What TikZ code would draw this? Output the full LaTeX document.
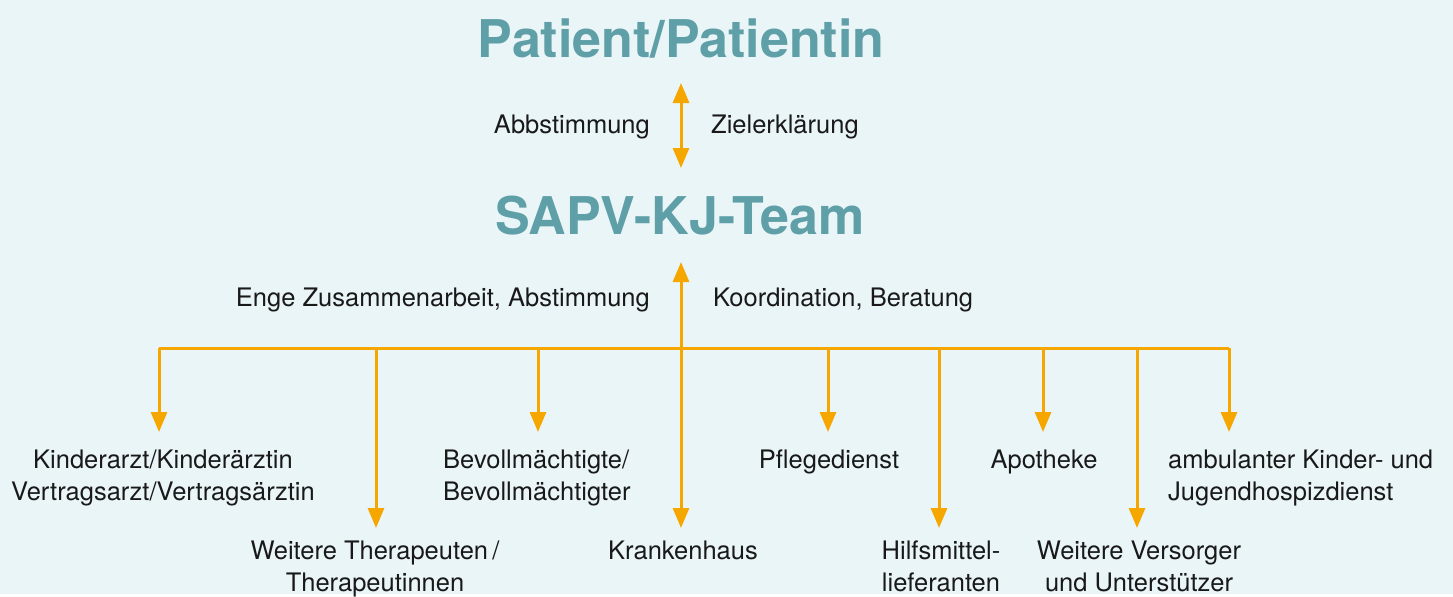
\documentclass[tikz,border=0pt]{standalone}
\usepackage{fontspec}
\setmainfont{TeX Gyre Heros}
\usetikzlibrary{arrows.meta}
\definecolor{bgblue}{HTML}{EAF5F8}
\definecolor{sapvteal}{HTML}{5F9FA7}
\definecolor{arroworange}{HTML}{F5A700}
\begin{document}
\begin{tikzpicture}[x=1pt,y=1pt,>={Triangle[width=16pt,length=20pt]},
    title/.style={text=sapvteal,font=\fontsize{52}{52}\selectfont\bfseries,inner sep=0},
    lbl/.style={text=black!90,font=\fontsize{25.5}{32}\selectfont,inner sep=0,align=center},
    line/.style={draw=arroworange,line width=3pt},
    flow/.style={line,->}]
  \fill[bgblue] (0,0) rectangle (1453,-594);
  % titles
  \node[title,anchor=base] (patient) at (681,-57) {Patient/Patientin};
  \node[title,anchor=base] (team) at (680,-234) {SAPV-KJ-Team};
  % patient <-> team
  \coordinate (pa) at (681,-83);
  \coordinate (ta) at (681,-168);
  \draw[line,<->] (pa) -- (ta);
  \node[lbl,anchor=base east] (abst) at (650,-133) {Abbstimmung};
  \node[lbl,anchor=base west] (ziel) at (711,-133) {Zielerklärung};
  % team <- bus
  \coordinate (hub) at (681,-348);
  \coordinate (tb) at (681,-262);
  \draw[flow] (hub) -- (tb);
  \node[lbl,anchor=base east] (enge) at (650,-306) {Enge Zusammenarbeit, Abstimmung};
  \node[lbl,anchor=base west] (koord) at (713,-306) {Koordination, Beratung};
  \coordinate (bl) at (159,-348);
  \coordinate (br) at (1229,-348);
  \draw[line] (bl) -- (br);
  \foreach \x/\y [count=\i] in {159/432,376/528,538/432,681/528,828/432,939/528,1043/432,1137/528,1229/432}{
    \coordinate (d\i) at (\x,-348);
    \coordinate (e\i) at (\x,-\y);
    \draw[flow] (d\i) -- (e\i);
  }
  % partners (base = last line)
  \node[lbl,anchor=base] (kinder) at (163,-500) {Kinderarzt/Kinderärztin\\Vertragsarzt/Vertragsärztin};
  \node[lbl,anchor=base] (therap) at (375,-591) {Weitere Therapeuten\,/\\Therapeutinnen};
  \node[lbl,align=left,anchor=base west] (bevoll) at (443,-500) {Bevollmächtigte/\\Bevollmächtigter};
  \node[lbl,anchor=base] (kh) at (683,-559) {Krankenhaus};
  \node[lbl,anchor=base] (pflege) at (829,-468) {Pflegedienst};
  \node[lbl,anchor=base] (hilfs) at (941,-591) {Hilfsmittel-\\lieferanten};
  \node[lbl,anchor=base] (apo) at (1044,-468) {Apotheke};
  \node[lbl,anchor=base] (versorger) at (1139,-591) {Weitere Versorger\\und Unterstützer};
  \node[lbl,align=left,anchor=base west] (hospiz) at (1168,-500) {ambulanter Kinder- und\\Jugendhospizdienst};
\end{tikzpicture}
\end{document}
